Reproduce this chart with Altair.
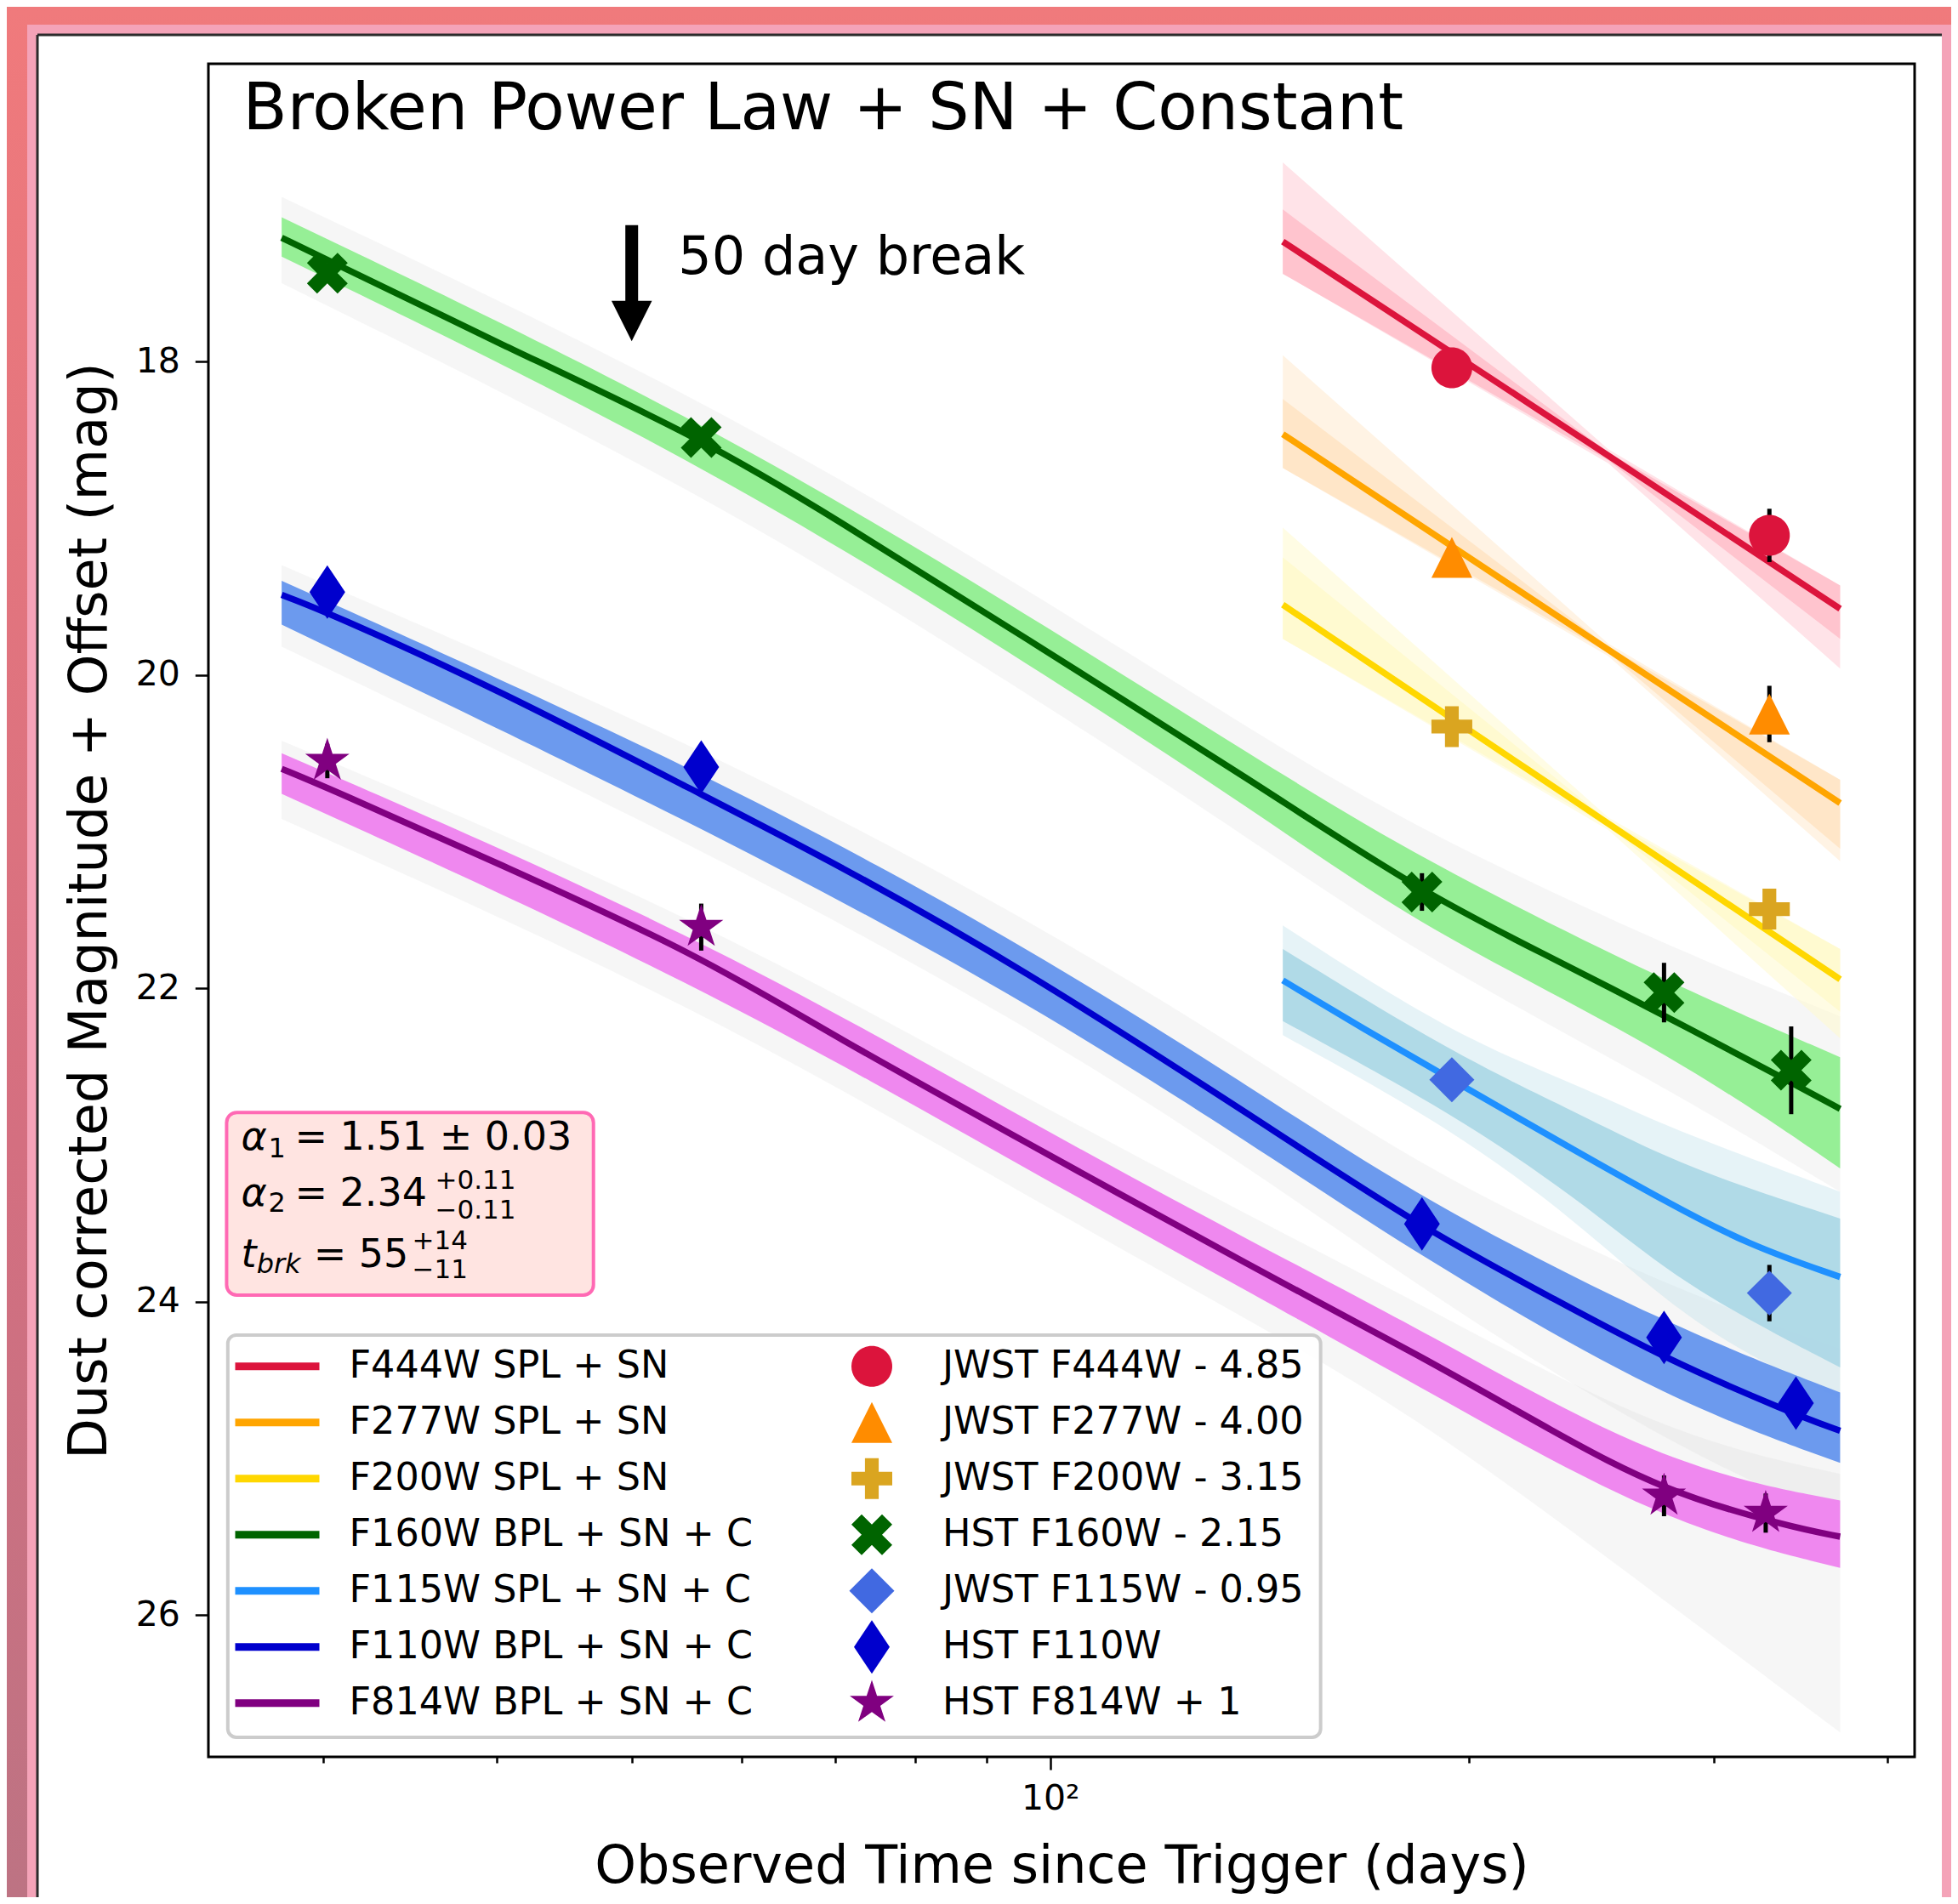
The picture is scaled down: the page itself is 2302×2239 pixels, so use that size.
import altair as alt
import pandas as pd

FONT = "DejaVu Sans"

# ---------------- values ----------------
# model curves (days, magnitude)
t_model = [28, 30.2, 40, 56, 70, 95, 141, 185, 230, 276, 341, 370]
f160w_model = [17.21, 17.35, 17.88, 18.485, 19.00, 19.74, 20.70, 21.39, 21.81, 22.17, 22.60, 22.77]
f110w_model = [19.49, 19.60, 20.09, 20.76, 21.20, 21.86, 22.84, 23.53, 23.98, 24.36, 24.71, 24.825]
f814w_model = [20.60, 20.72, 21.20, 21.79, 22.31, 22.96, 23.80, 24.35, 24.83, 25.21, 25.44, 25.50]

t_jwst_model = [147, 252, 370]
f444w_model = [17.235, 18.60, 19.578]
f277w_model = [18.464, 19.84, 20.818]
f200w_model = [19.553, 20.95, 21.943]

t_f115w_model = [147, 168, 195, 240, 277, 318, 370]
f115w_model = [21.95, 22.26, 22.59, 23.05, 23.36, 23.64, 23.843]

# uncertainty bands (bright edge / faint edge)
t_band = [28, 56, 95, 141, 185, 276, 370]
f160w_band_top = [17.08, 18.36, 19.58, 20.54, 21.18, 21.95, 22.44]
f160w_band_bot = [17.33, 18.63, 19.89, 20.88, 21.62, 22.38, 23.15]
f110w_band_top = [19.40, 20.60, 21.70, 22.66, 23.35, 24.14, 24.58]
f110w_band_bot = [19.68, 20.96, 22.05, 23.02, 23.72, 24.62, 25.03]
f814w_band_top = [20.50, 21.66, 22.82, 23.64, 24.18, 25.05, 25.27]
f814w_band_bot = [20.76, 21.97, 23.13, 23.97, 24.55, 25.42, 25.70]
# spread of the individual posterior draws
f160w_draw_top = [16.95, 18.22, 19.42, 20.38, 21.00, 21.72, 22.18]
f160w_draw_bot = [17.50, 18.82, 20.08, 21.08, 21.80, 22.62, 23.30]
f110w_draw_top = [19.30, 20.45, 21.52, 22.45, 23.15, 23.90, 24.30]
f110w_draw_bot = [19.82, 21.10, 22.20, 23.18, 23.92, 24.90, 25.40]
f814w_draw_top = [20.42, 21.55, 22.68, 23.48, 24.02, 24.85, 25.10]
f814w_draw_bot = [20.92, 22.12, 23.30, 24.15, 24.75, 25.90, 26.75]

t_jwst_band = [147, 252, 370]
f444w_band_top = [17.03, 18.58, 19.43]
f444w_band_bot = [17.44, 18.63, 19.77]
f444w_draw_top = [16.73, 18.56, 19.43]
f444w_draw_bot = [17.44, 18.65, 19.96]
f277w_band_top = [18.24, 19.82, 20.67]
f277w_band_bot = [18.68, 19.86, 21.11]
f277w_draw_top = [17.96, 19.80, 20.67]
f277w_draw_bot = [18.68, 19.88, 21.19]
f200w_band_top = [19.25, 20.93, 21.75]
f200w_band_bot = [19.77, 20.97, 22.15]
f200w_draw_top = [19.06, 20.91, 21.75]
f200w_draw_bot = [19.77, 20.99, 22.32]

t_f115w_band = [147, 195, 240, 277, 318, 370]
f115w_band_top = [21.75, 22.42, 22.80, 23.08, 23.28, 23.47]
f115w_band_bot = [22.21, 22.80, 23.35, 23.80, 24.12, 24.42]
f115w_draw_top = [21.60, 22.30, 22.62, 22.88, 23.08, 23.30]
f115w_draw_bot = [22.30, 22.90, 23.50, 24.00, 24.35, 24.62]

# photometry (days, magnitude + offset, error)
f444w_t = [194.5, 329.1]; f444w_mag = [18.04, 19.11]; f444w_err = [0.03, 0.17]
f277w_t = [194.5, 329.1]; f277w_mag = [19.25, 20.25]; f277w_err = [0.03, 0.18]
f200w_t = [194.5, 329.1]; f200w_mag = [20.33, 21.495]; f200w_err = [0.03, 0.05]
f160w_t = [30.2, 56.1, 185.1, 276.4, 341.2]
f160w_mag = [17.436, 18.485, 21.386, 22.028, 22.524]
f160w_err = [0.03, 0.03, 0.12, 0.19, 0.28]
f115w_t = [194.5, 329.1]; f115w_mag = [22.584, 23.946]; f115w_err = [0.03, 0.18]
f110w_t = [30.2, 56.1, 185.1, 276.4, 343.9]
f110w_mag = [19.472, 20.588, 23.505, 24.229, 24.648]
f110w_err = [0.05, 0.10, 0.05, 0.05, 0.05]
f814w_t = [30.2, 56.1, 276.4, 327.1]
f814w_mag = [20.55, 21.61, 25.24, 25.35]
f814w_err = [0.11, 0.15, 0.13, 0.125]

line_labels = ["F444W SPL + SN", "F277W SPL + SN", "F200W SPL + SN", "F160W BPL + SN + C",
               "F115W SPL + SN + C", "F110W BPL + SN + C", "F814W BPL + SN + C"]
point_labels = ["JWST F444W - 4.85", "JWST F277W - 4.00", "JWST F200W - 3.15", "HST F160W - 2.15",
                "JWST F115W - 0.95", "HST F110W", "HST F814W + 1"]
x_tick_values = [30, 40, 50, 60, 70, 80, 90, 100, 200, 300, 400]
y_tick_values = [18, 20, 22, 24, 26]

# ---------------- styles ----------------
line_colors = ["#DC143C", "#FFA500", "#FFD700", "#006400", "#1E90FF", "#0000CD", "#800080"]
point_colors = ["#DC143C", "#FF8C00", "#DAA520", "#006400", "#4169E1", "#0000CD", "#800080"]
point_shapes = [
    "M0.8,0A0.8,0.8,0,1,1,-0.8,0A0.8,0.8,0,1,1,0.8,0Z",
    "M0,-0.8L0.8,0.8L-0.8,0.8Z",
    "M-0.27,-0.8L0.27,-0.8L0.27,-0.27L0.8,-0.27L0.8,0.27L0.27,0.27L0.27,0.8L-0.27,0.8L-0.27,0.27L-0.8,0.27L-0.8,-0.27L-0.27,-0.27Z",
    "M0.4,-0.8L0.8,-0.4L0.4,0L0.8,0.4L0.4,0.8L0,0.4L-0.4,0.8L-0.8,0.4L-0.4,0L-0.8,-0.4L-0.4,-0.8L0,-0.4Z",
    "M0,-0.883L0.883,0L0,0.883L-0.883,0Z",
    "M0,-1.05L0.7,0L0,1.05L-0.7,0Z",
    "M0,-0.911L0.2045,-0.2815L0.8664,-0.2815L0.331,0.1075L0.5355,0.737L0,0.348L-0.5355,0.737L-0.331,0.1075L-0.8664,-0.2815L-0.2045,-0.2815Z",
]

W, H = 2006, 1991
xscale = alt.Scale(type="log", domain=[24.8, 418.6], nice=False)
yscale = alt.Scale(domain=[16.10, 26.906], reverse=True, nice=False, zero=False)

xaxis = alt.Axis(
    values=x_tick_values, labelExpr="datum.value == 100 ? '10²' : ''",
    tickSize=15, tickWidth=2.5, tickColor="black",
    tickDash={"condition": {"test": "datum.value == 100", "value": [30, 1]}, "value": [7, 40]},
    labelFontSize=41, labelFont=FONT, labelColor="black", labelPadding=14,
    labelOverlap=False, labelFlush=False, domain=False, grid=False,
    title="Observed Time since Trigger (days)", titleFont=FONT, titleFontSize=62,
    titleFontWeight="normal", titleColor="black", titlePadding=29, zindex=1)
yaxis = alt.Axis(
    values=y_tick_values, format="d", tickSize=15.7, tickWidth=2.5, tickColor="black",
    labelFontSize=41, labelFont=FONT, labelColor="black", labelPadding=18,
    domain=False, grid=False,
    title="Dust corrected Magnitude + Offset (mag)", titleFont=FONT, titleFontSize=62,
    titleFontWeight="normal", titleColor="black", titlePadding=22, zindex=1)


def X(field):
    return alt.X(field, type="quantitative", scale=xscale, axis=xaxis)


def Y(field):
    return alt.Y(field, type="quantitative", scale=yscale, axis=yaxis)


one = pd.DataFrame({"k": [0]})
layers = []

# ---------- page decoration ----------
layers.append(alt.Chart(one).mark_rect(fill=alt.LinearGradient(
    gradient="linear", x1=0, x2=0, y1=0, y2=1,
    stops=[alt.GradientStop(color="#f07a7c", offset=0), alt.GradientStop(color="#d46f80", offset=0.6),
           alt.GradientStop(color="#bd7383", offset=1)])).encode(
    x=alt.value(-237), x2=alt.value(2049), y=alt.value(-67), y2=alt.value(2156)))
layers.append(alt.Chart(one).mark_rect(fill="#f4a3b8").encode(
    x=alt.value(-213), x2=alt.value(2049), y=alt.value(-46), y2=alt.value(2170)))
layers.append(alt.Chart(one).mark_rect(fill="white").encode(
    x=alt.value(-201), x2=alt.value(2038), y=alt.value(-33), y2=alt.value(2170)))
layers.append(alt.Chart(one).mark_rule(color="#2b2b2b", strokeWidth=3).encode(
    x=alt.value(-201), x2=alt.value(2038), y=alt.value(-34)))
layers.append(alt.Chart(one).mark_rule(color="#2b2b2b", strokeWidth=3).encode(
    x=alt.value(-201), y=alt.value(-34), y2=alt.value(2170)))


def area_layer(t, top, bot, color, opacity, interp="basis"):
    df = pd.DataFrame({"t": t, "top": top, "bot": bot})
    return alt.Chart(df).mark_area(color=color, opacity=opacity, interpolate=interp).encode(
        x=X("t"), y=Y("top"), y2="bot")


# grey posterior draws
for top, bot in [(f160w_draw_top, f160w_draw_bot), (f110w_draw_top, f110w_draw_bot),
                 (f814w_draw_top, f814w_draw_bot)]:
    layers.append(area_layer(t_band, top, bot, "#c8cccc", 0.17))

# faint coloured fans
layers.append(area_layer(t_jwst_band, f444w_draw_top, f444w_draw_bot, "#FFC0CB", 0.45, "linear"))
layers.append(area_layer(t_jwst_band, f277w_draw_top, f277w_draw_bot, "#FFE4C4", 0.45, "linear"))
layers.append(area_layer(t_jwst_band, f200w_draw_top, f200w_draw_bot, "#FFFACD", 0.55, "linear"))
layers.append(area_layer(t_f115w_band, f115w_draw_top, f115w_draw_bot, "#ADD8E6", 0.3))

# core bands
layers.append(area_layer(t_band, f160w_band_top, f160w_band_bot, "#90EE90", 0.95))
layers.append(area_layer(t_band, f110w_band_top, f110w_band_bot, "#6495ED", 0.95))
layers.append(area_layer(t_band, f814w_band_top, f814w_band_bot, "#EE82EE", 0.95))
layers.append(area_layer(t_f115w_band, f115w_band_top, f115w_band_bot, "#ADD8E6", 0.95))
layers.append(area_layer(t_jwst_band, f444w_band_top, f444w_band_bot, "#FFC0CB", 0.9, "linear"))
layers.append(area_layer(t_jwst_band, f277w_band_top, f277w_band_bot, "#FFE4C4", 0.9, "linear"))
layers.append(area_layer(t_jwst_band, f200w_band_top, f200w_band_bot, "#FFFACD", 0.9, "linear"))

# ---------- model lines ----------
line_rows = []
for lab, ts, ms in [
    (line_labels[0], t_jwst_model, f444w_model), (line_labels[1], t_jwst_model, f277w_model),
    (line_labels[2], t_jwst_model, f200w_model), (line_labels[3], t_model, f160w_model),
    (line_labels[4], t_f115w_model, f115w_model), (line_labels[5], t_model, f110w_model),
    (line_labels[6], t_model, f814w_model)]:
    for t, m in zip(ts, ms):
        line_rows.append({"t": t, "mag": m, "series": lab})
lines_df = pd.DataFrame(line_rows)

legend_lines = alt.Legend(
    orient="none", legendX=31, legendY=1499, title=None,
    symbolType="M-1.133,0L2.167,0", symbolSize=3600, symbolStrokeWidth=9,
    labelFontSize=44.5, labelFont=FONT, labelColor="black", labelLimit=2000,
    labelOffset=65.5, rowPadding=0, clipHeight=65.5, padding=0)
layers.append(alt.Chart(lines_df).mark_line(strokeWidth=7.5, interpolate="basis").encode(
    x=X("t"), y=Y("mag"),
    stroke=alt.Stroke("series:N", scale=alt.Scale(domain=line_labels, range=line_colors),
                      legend=legend_lines)))

# ---------- photometry ----------
pt_rows = []
for lab, ts, ms, es in [
    (point_labels[0], f444w_t, f444w_mag, f444w_err), (point_labels[1], f277w_t, f277w_mag, f277w_err),
    (point_labels[2], f200w_t, f200w_mag, f200w_err), (point_labels[3], f160w_t, f160w_mag, f160w_err),
    (point_labels[4], f115w_t, f115w_mag, f115w_err), (point_labels[5], f110w_t, f110w_mag, f110w_err),
    (point_labels[6], f814w_t, f814w_mag, f814w_err)]:
    for t, m, e in zip(ts, ms, es):
        pt_rows.append({"t": t, "mag": m, "lo": m - e, "hi": m + e, "label": lab})
pts_df = pd.DataFrame(pt_rows)

layers.append(alt.Chart(pts_df).mark_rule(color="black", strokeWidth=5).encode(
    x=X("t"), y=Y("lo"), y2="hi"))

legend_pts = alt.Legend(
    orient="none", legendX=750, legendY=1499, title=None, symbolSize=3600,
    symbolStrokeWidth=0, labelFontSize=44.5, labelFont=FONT, labelColor="black",
    labelLimit=2000, labelOffset=53, rowPadding=0, clipHeight=65.5, padding=0)
layers.append(alt.Chart(pts_df).mark_point(filled=True, size=3600, strokeWidth=0, opacity=1).encode(
    x=X("t"), y=Y("mag"),
    shape=alt.Shape("label:N", scale=alt.Scale(domain=point_labels, range=point_shapes), legend=legend_pts),
    fill=alt.Fill("label:N", scale=alt.Scale(domain=point_labels, range=point_colors), legend=legend_pts)))


# ---------- annotations ----------
def txt(s, t, m, size, italic=False):
    return alt.Chart(one).mark_text(
        text=s, font=FONT, fontSize=size, fontStyle="italic" if italic else "normal",
        align="left", baseline="alphabetic", color="black").encode(
        x=alt.datum(t), y=alt.datum(m))


layers.append(alt.Chart(one).mark_rule(color="black", strokeWidth=15).encode(
    x=alt.datum(50), y=alt.datum(17.13), y2=alt.datum(17.63)))
layers.append(alt.Chart(one).mark_point(shape="M-1,-1L1,-1L0,1Z", filled=True, size=2266,
                                        color="black", opacity=1).encode(
    x=alt.datum(50), y=alt.datum(17.742)))
layers.append(txt("50 day break", 54.0, 17.442, 62))
layers.append(txt("Broken Power Law + SN + Constant", 26.26, 16.519, 76))

layers.append(alt.Chart(one).mark_rect(fill="#ffe4e1", stroke="#ff69b4", strokeWidth=4, cornerRadius=12).encode(
    x=alt.datum(25.56), x2=alt.datum(46.93), y=alt.datum(22.793), y2=alt.datum(23.959)))
layers += [
    txt("α", 26.18, 23.030, 46, True), txt("1", 27.39, 23.080, 32), txt("= 1.51 ± 0.03", 28.61, 23.030, 46),
    txt("α", 26.18, 23.390, 46, True), txt("2", 27.39, 23.428, 32), txt("= 2.34", 28.61, 23.390, 46),
    txt("+0.11", 36.10, 23.278, 31), txt("−0.11", 36.10, 23.468, 31),
    txt("t", 26.18, 23.780, 46, True), txt("brk", 26.86, 23.818, 32, True), txt("= 55", 29.52, 23.780, 46),
    txt("+14", 34.75, 23.668, 31), txt("−11", 34.75, 23.848, 31),
]

# legend frame
layers.append(alt.Chart(one).mark_rect(fill="white", fillOpacity=0.85, stroke="#cccccc", strokeWidth=4,
                                       cornerRadius=10).encode(
    x=alt.datum(25.61), x2=alt.datum(156.5), y=alt.datum(24.214), y2=alt.datum(26.781)))

# plot frame
layers.append(alt.Chart(one).mark_rect(fill="transparent", stroke="black", strokeWidth=3).encode(
    x=alt.value(0), x2=alt.value(W), y=alt.value(0), y2=alt.value(H)))

chart = alt.layer(*layers).properties(
    width=W, height=H,
    padding={"left": 237, "top": 67, "right": 43, "bottom": 165},
    autosize=alt.AutoSizeParams(type="none"),
    background="#e8787f",
).configure_view(stroke=None).configure_text(font=FONT)

chart.save("out.html", embed_options={"renderer": "svg", "actions": False})
